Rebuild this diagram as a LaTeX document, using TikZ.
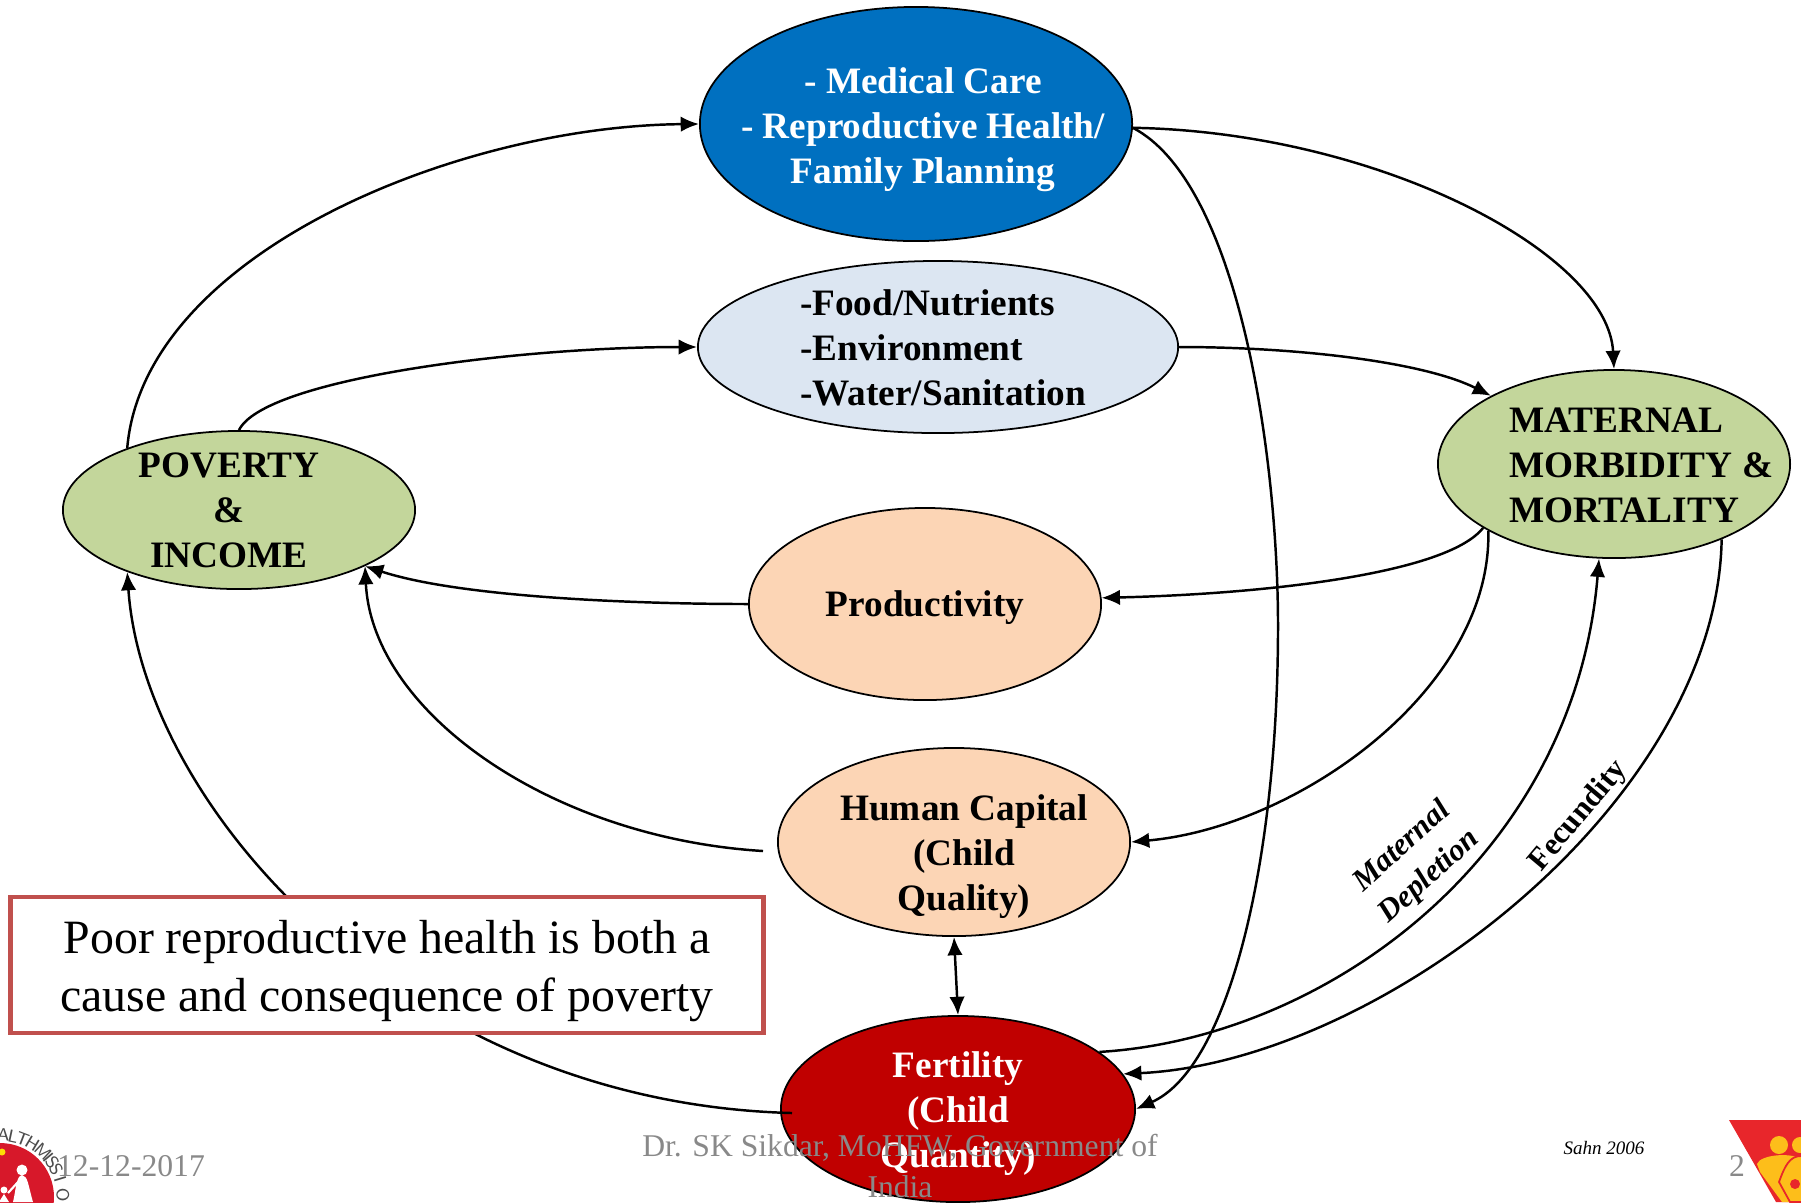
\documentclass[tikz,border=0pt]{standalone}
\usepackage{fontspec}
\setmainfont{Liberation Serif}
\usepackage{tikz}
\usetikzlibrary{shapes.geometric, arrows.meta}
\definecolor{medblue}{HTML}{0070C0}
\definecolor{foodblue}{HTML}{DCE6F2}
\definecolor{povgreen}{HTML}{C3D69B}
\definecolor{prodpeach}{HTML}{FCD5B5}
\definecolor{fertred}{HTML}{C00000}
\definecolor{boxred}{HTML}{C0504D}
\definecolor{footgray}{HTML}{898989}
\definecolor{logored}{HTML}{D7182A}
\definecolor{triared}{HTML}{E8262B}
\definecolor{triayellow}{HTML}{FDBE1A}

\begin{document}
\begin{tikzpicture}[x = 0.01cm, y = -0.01cm]
		\tikzset{> = {Latex[length = 5.2pt, width = 4.4pt]}}
		\tikzset{oval/.style = {draw, ellipse, line width = 0.5pt, inner sep = 0pt}}
		\tikzset{lbl/.style = {font = \fontsize{10.6}{12.8}\selectfont\bfseries, inner sep = 0pt}}
		\tikzset{conn/.style = {line width = 0.7pt}}
		\tikzset{foot/.style = {font = \fontsize{9}{11.4}\selectfont, text = footgray, inner sep = 0pt}}
		\tikzset{side/.style = {font = \fontsize{8.9}{11.5}\selectfont\bfseries, inner sep = 0pt, align = center}}
		\useasboundingbox (0,0) rectangle (1801,1202);
		\clip (0,0) rectangle (1801,1202);
		\node[oval, fill = medblue, minimum width = 4.32cm, minimum height = 2.34cm,
			label = {[lbl, name = medicaltext, white, align = center, xshift = 0.07cm, yshift = -0.06cm]center:{- Medical Care\\- Reproductive Health/\\Family Planning}}] (medical) at (916,124){};
		\node[oval, fill = foodblue, minimum width = 4.8cm, minimum height = 1.72cm,
			label = {[lbl, name = foodtext, align = left, xshift = 0.05cm, yshift = -0.01cm]center:{-Food/Nutrients\\-Environment\\-Water/Sanitation}}] (food) at (938,347){};
		\node[oval, fill = povgreen, minimum width = 3.52cm, minimum height = 1.58cm,
			label = {[lbl, name = povertytext, align = center, xshift = -0.1cm]center:{POVERTY\\\&\\INCOME}}] (poverty) at (239,510){};
		\node[oval, fill = povgreen, minimum width = 3.52cm, minimum height = 1.88cm,
			label = {[lbl, name = maternaltext, align = left, xshift = 0.27cm, yshift = -0.01cm]center:{MATERNAL\\MORBIDITY \&\\MORTALITY}}] (maternal) at (1614,464){};
		\node[oval, fill = prodpeach, minimum width = 3.52cm, minimum height = 1.92cm,
			label = {[lbl, name = prodtext, yshift = -0.04cm]center:{Productivity}}] (prod) at (925,604){};
		\node[oval, fill = prodpeach, minimum width = 3.52cm, minimum height = 1.88cm,
			label = {[lbl, name = humantext, align = center, xshift = 0.1cm, yshift = -0.15cm]center:{Human Capital\\(Child\hspace*{0.09cm}\\Quality)}}] (human) at (954,842){};
		\node[oval, fill = fertred, minimum width = 3.54cm, minimum height = 1.86cm,
			label = {[lbl, name = fertilitytext, white, align = center, yshift = -0.05cm]center:{Fertility\\(Child\\Quantity)}}] (fertility) at (958,1109){};
		\coordinate (humanleft) at (763,851);
		\coordinate (fertleft) at (792,1113);
		\coordinate (midright) at (1278,626);
		\draw[conn, ->] (poverty.151) .. controls (144,253) and (459,126) .. (medical.west);
		\draw[conn, ->] (poverty.north) .. controls (264,379) and (517,347) .. (food.west);
		\draw[conn, ->] (medical.-1) .. controls (1378,132) and (1608,253) .. (maternal.north);
		\draw[conn, ->] (medical.-1) .. controls (1240,184) and (1278,460) .. (midright) .. controls (1278,861) and (1229,1068) .. (fertility.east);
		\draw[conn, ->] (food.east) .. controls (1298,347) and (1424,362) .. (maternal.151);
		\draw[conn, ->] (maternal.206) .. controls (1447,574) and (1263,594) .. (prod.2);
		\draw[conn, ->] (prod.west) .. controls (632,604) and (459,597) .. (poverty.-24);
		\draw[conn, ->] (maternal.208) .. controls (1492,689) and (1298,827) .. (human.east);
		\draw[conn, ->] (humanleft) .. controls (551,838) and (372,712) .. (poverty.-24);
		\draw[conn, <->] (human.south) to (fertility.north);
		\draw[conn, ->] (fertility.22) .. controls (1321,1039) and (1574,861) .. (maternal.-99);
		\draw[conn, ->] (maternal.-35) .. controls (1717,804) and (1378,1062) .. (fertility.12);
		\draw[conn, ->] (fertleft) .. controls (402,1103) and (143,804) .. (poverty.209);
		\node[draw = boxred, fill = white, line width = 1.3pt, minimum width = 7.53cm, minimum height = 1.36cm, inner sep = 0pt,
			label = {[name = notetext, align = center, inner sep = 0pt, font = \fontsize{13.6}{16.3}\selectfont, yshift = -0.06cm]center:{Poor reproductive health is both a\\cause and consequence of poverty}}] (note) at (387,965){};
		\node[side, font = \fontsize{8.8}{11.5}\selectfont\bfseries\itshape, rotate = 42] (depletion) at (1416,862){Maternal\\Depletion};
		\node[side, rotate = 50] (fecundity) at (1579,816){Fecundity};
		\node[font = \fontsize{5.4}{6}\selectfont\itshape, inner sep = 0pt] (source) at (1604,1148){Sahn 2006};
		\fill[logored] (0,1197) circle (54);
		\fill[yellow!80!orange] (2,1152) circle (3.5);
		\fill[white] (22,1170) circle (5.5);
		\fill[white] (22,1175) .. controls (28,1176) and (28,1185) .. (33,1202) -- (13,1202) .. controls (16,1190) and (16,1176) .. (22,1175) -- cycle;
		\draw[white, line width = 0.6pt] (18,1182) -- (8,1193);
		\fill[white] (4,1190) circle (3.5);
		\fill[white] (4,1194) -- (9,1202) -- (-1,1202) -- cycle;
		\foreach \ltr/\ang in {A/-87, L/-78, T/-69, H/-59, M/-47, I/-40, S/-34, S/-27, I/-17, O/-3}{
			\path (0,1198) ++(\ang:63) node[font = \sffamily\fontsize{5}{6}\selectfont, text = black!70, rotate = -\ang-90, inner sep = 0pt] {\ltr};
		}
		\fill[triared] (1729,1120) -- (1801,1120) -- (1801,1202) -- (1776,1202) -- cycle;
		\fill[triayellow] (1779,1145) circle (9);
		\fill[triayellow] (1800,1145) circle (8);
		\fill[triayellow] (1757,1164) .. controls (1760,1154) and (1795,1152) .. (1801,1160) -- (1801,1202) -- (1782,1202) -- (1760,1172) -- cycle;
		\draw[triared, line width = 0.5pt, fill = triayellow] (1801,1156) .. controls (1790,1156) and (1785,1165) .. (1779,1182) -- (1790,1202) -- (1801,1202);
		\fill[triared] (1795,1184) circle (5);
		\node[foot] (datefoot) at (131,1166){12-12-2017};
		\node[foot, align = center] (authorfoot) at (900,1166){Dr. SK Sikdar, MoHFW, Government of\\India};
		\node[foot] (pagefoot) at (1737,1166){2};
	\end{tikzpicture}
\end{document}
